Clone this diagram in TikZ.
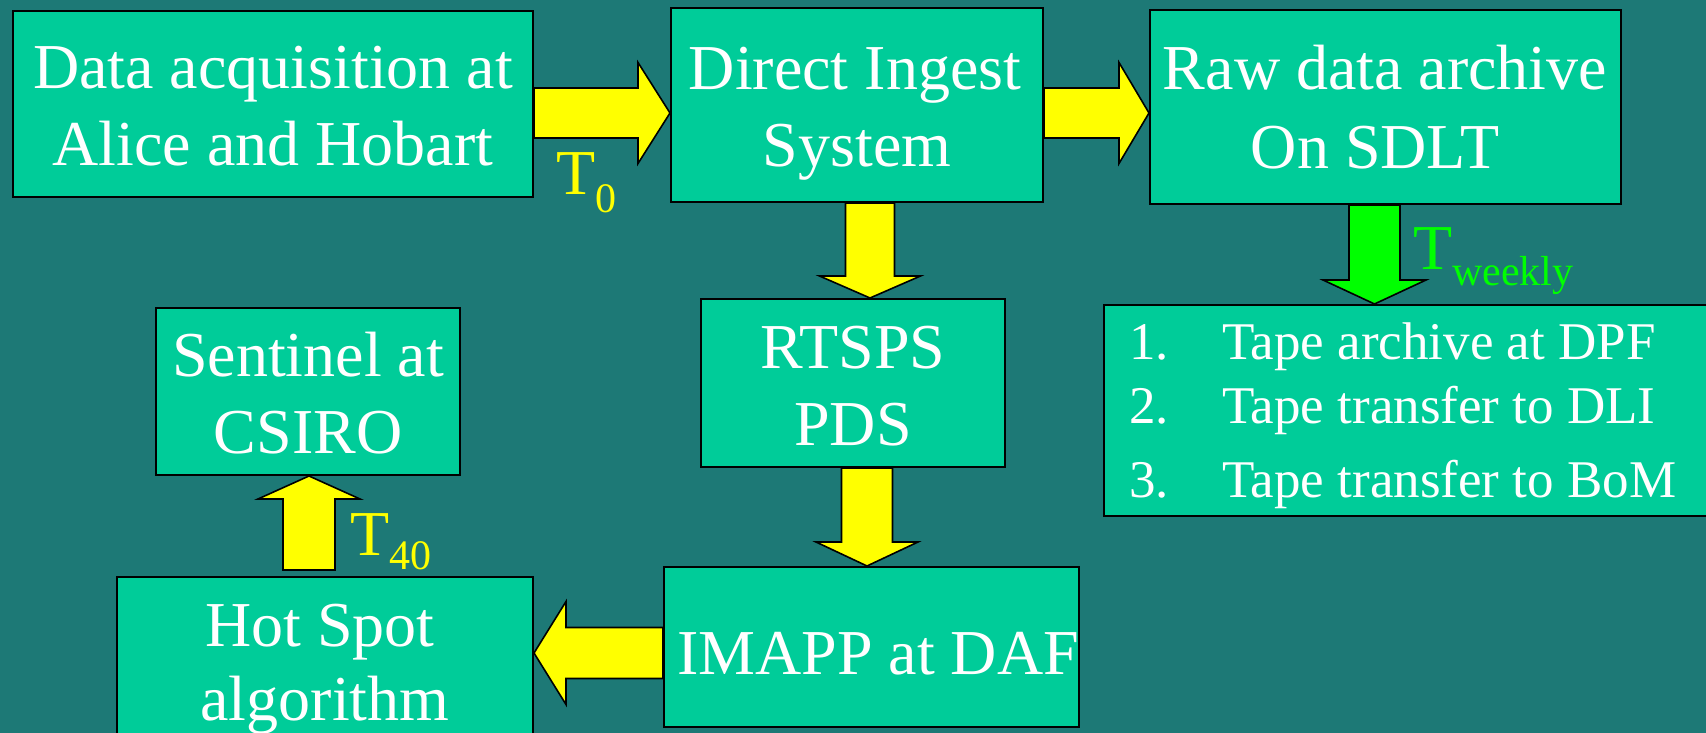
\documentclass[tikz,border=0pt]{standalone}
\usepackage{fontspec}
\setmainfont{Liberation Serif}
\usetikzlibrary{calc}
\definecolor{bgteal}{RGB}{29,121,118}
\definecolor{boxgreen}{RGB}{0,204,153}
\definecolor{arrowyellow}{RGB}{255,255,0}
\definecolor{arrowgreen}{RGB}{0,255,0}
\newcommand{\blockarrow}[6][arrowyellow]{%
  \coordinate (bneck) at ($(#3)!#6!(#2)$);
  \draw[blockline,fill=#1] ($(#2)!#4!90:(#3)$) -- ($(bneck)!#4!90:(#3)$) -- ($(bneck)!#5!90:(#3)$) -- (#3) -- ($(bneck)!#5!-90:(#3)$) -- ($(bneck)!#4!-90:(#3)$) -- ($(#2)!#4!-90:(#3)$) -- cycle;}
\tikzset{
  box/.style={draw=black, line width=2pt, fill=boxgreen, inner sep=0pt},
  blockline/.style={draw=black, line width=1.6pt, line join=miter},
  txt/.style={text=white, inner sep=0pt, anchor=base, font=\fontsize{64}{77}\selectfont},
  listtxt/.style={text=white, inner sep=0pt, anchor=base west, font=\fontsize{53}{64}\selectfont},
  tlab/.style={inner sep=0pt, anchor=base west, font=\fontsize{64}{77}\selectfont},
}
\begin{document}
\begin{tikzpicture}[x=1pt,y=-1pt]
\useasboundingbox (0,0) rectangle (1706,733);
\fill[bgteal] (0,0) rectangle (1706,733);
\begin{scope}
\clip (0,0) rectangle (1706,733);
% boxes
\node[box, minimum width=520pt, minimum height=186pt] (A) at (273,104) {};
\node[box, minimum width=372pt, minimum height=194pt] (B) at (857,105) {};
\node[box, minimum width=471pt, minimum height=194pt] (C) at (1385.5,107) {};
\node[box, minimum width=304pt, minimum height=168pt] (D) at (853,383) {};
\node[box, minimum width=626pt, minimum height=211pt] (E) at (1417,410.5) {};
\node[box, minimum width=304pt, minimum height=167pt] (S) at (308,391.5) {};
\node[box, minimum width=415pt, minimum height=160pt] (F) at (871.5,647) {};
\node[box, minimum width=416pt, minimum height=183pt] (H) at (325,668.5) {};
% texts
\node[txt] (A1) at (273,89) {Data acquisition at};
\node[txt] (A2) at (273,166) {Alice and Hobart};
\node[txt] (B1) at (855,90) {Direct Ingest};
\node[txt] (B2) at (857,167) {System};
\node[txt] (C1) at (1385,90) {Raw data archive};
\node[txt] (C2) at (1375,168) {On SDLT};
\node[txt] (D1) at (853,368) {RTSPS};
\node[txt] (D2) at (853,445) {PDS};
\node[txt] (S1) at (308,376) {Sentinel at};
\node[txt] (S2) at (308,453) {CSIRO};
\node[txt] (F1) at (878,674) {IMAPP at DAF};
\node[txt] (H1) at (320,646) {Hot Spot};
\node[txt] (H2) at (325,720) {algorithm};
\node[listtxt] (E1n) at (1129,359) {1.};
\node[listtxt] (E1) at (1222,359) {Tape archive at DPF};
\node[listtxt] (E2n) at (1129,423) {2.};
\node[listtxt] (E2) at (1222,423) {Tape transfer to DLI};
\node[listtxt] (E3n) at (1129,497) {3.};
\node[listtxt] (E3) at (1222,497) {Tape transfer to BoM};
% time labels
\node[tlab, text=arrowyellow] (T0) at (556,194) {T\raisebox{-18pt}{\fontsize{42}{42}\selectfont 0}};
\node[tlab, text=arrowgreen] (Tw) at (1413,269) {T\raisebox{-16pt}{\fontsize{42}{42}\selectfont weekly}};
\node[tlab, text=arrowyellow] (T40) at (350,555) {T\raisebox{-14pt}{\fontsize{42}{42}\selectfont 40}};
% arrows
\coordinate (a1s) at (A.east |- 0,113);
\coordinate (a1t) at (B.west |- 0,113);
\blockarrow{a1s}{a1t}{25pt}{50.5pt}{32pt}
\coordinate (a2s) at (B.east |- 0,113);
\coordinate (a2t) at (C.west |- 0,113);
\blockarrow{a2s}{a2t}{25pt}{50.5pt}{30pt}
\coordinate (a3s) at (870,0 |- B.south);
\coordinate (a3t) at (870,0 |- D.north);
\blockarrow{a3s}{a3t}{24.5pt}{50.5pt}{22pt}
\coordinate (a4s) at (867,0 |- D.south);
\coordinate (a4t) at (867,0 |- F.north);
\blockarrow{a4s}{a4t}{25.5pt}{51pt}{24pt}
\coordinate (a5s) at (1374.5,0 |- C.south);
\coordinate (a5t) at (1374.5,0 |- E.north);
\blockarrow[arrowgreen]{a5s}{a5t}{25.5pt}{51.5pt}{24pt}
\coordinate (a6s) at (F.west |- 0,653);
\coordinate (a6t) at (H.east |- 0,653);
\blockarrow{a6s}{a6t}{25.5pt}{51.5pt}{32pt}
\coordinate (a7s) at ($(309,0 |- H.north)+(0,-6)$);
\coordinate (a7t) at (309,0 |- S.south);
\blockarrow{a7s}{a7t}{26pt}{51pt}{23pt}
\end{scope}
\end{tikzpicture}
\end{document}
